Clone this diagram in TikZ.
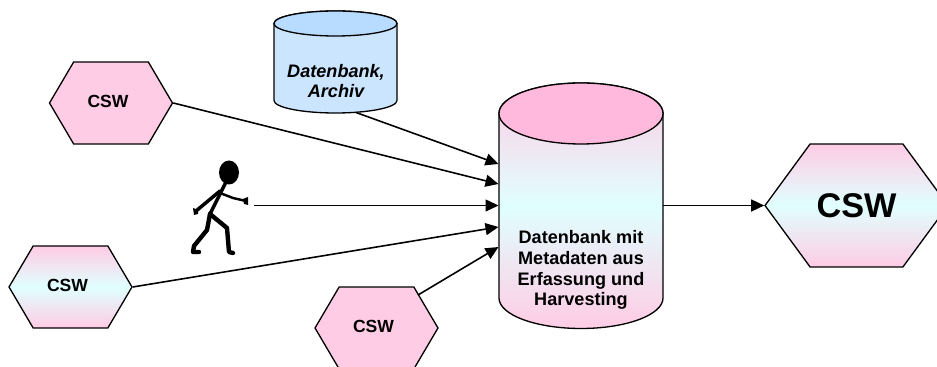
\documentclass[tikz,border=0pt]{standalone}
\usepackage{fontspec}
\setmainfont{Liberation Sans}
\usetikzlibrary{arrows.meta,shapes.symbols}
\definecolor{dbpink}{HTML}{FFCCE5}
\definecolor{dbpinktop}{HTML}{FFB9DC}
\definecolor{dbcyan}{HTML}{E0FFFF}
\definecolor{dbblue}{HTML}{CCE5FF}
\definecolor{dbbluetop}{HTML}{B8DCFF}
\newcommand{\cswtext}{\raisebox{1.7pt}{CSW}\kern3.4pt}
\def\drum[#1][#2](#3,#4,#5)(#6:#7){
	\draw[drumline, #1] (#3-#6, #4) arc (180:0:#6 and -#7) -- (#3+#6, #5) arc (0:180:#6 and #7) -- cycle;
	\draw[drumline, fill=#2] (#3, #4) ellipse (#6 and #7);
}
\tikzset{
	cswhex/.style={signal, signal to=east and west, signal pointer angle=119, draw=black, line width=0.75pt, inner sep=0pt, minimum width=2.46cm, minimum height=1.64cm, font=\bfseries\fontsize{10}{12}\selectfont},
	cswplain/.style={cswhex, fill=dbpink},
	cswshade/.style={top color=dbpink, bottom color=dbpink, middle color=dbcyan},
	drumline/.style={draw=black, line width=0.75pt},
	cyllabel/.style={align=center, font=\bfseries\fontsize{10.3}{11.9}\selectfont},
	feed/.style={draw=black, line width=0.9pt, -{Triangle[length=7.4pt,width=6.8pt]}},
	limb/.style={line width=2pt, line cap=round, line join=round},
}
\begin{document}
\begin{tikzpicture}[x=0.02cm,y=-0.02cm]
	%%%%% FRAME %%%%%
	\clip (0, 0) rectangle (937, 367);

	%%%%% STORES %%%%%
	\drum[fill=dbblue][dbbluetop](335.5, 23.5, 100.5)(61.5:12.5)
	\node[cyllabel, font=\bfseries\itshape\fontsize{10.3}{11.3}\selectfont] (archiv) at (336, 81) {Datenbank,\\Archiv};

	\drum[cswshade][dbpinktop](581, 113.5, 298)(82:30.5)
	\node[cyllabel] (metadb) at (581, 270) {Datenbank mit\\Metadaten aus\\Erfassung und\\Harvesting};

	%%%%% SERVICES %%%%%
	\node[cswplain] (cswa) at (111, 103) {\cswtext};
	\node[cswhex, cswshade] (cswb) at (70.5, 287) {\cswtext};
	\node[cswplain] (cswc) at (376.5, 328) {\cswtext};
	\node[cswhex, cswshade, signal pointer angle=107.5, minimum width=3.66cm, minimum height=2.46cm, font=\bfseries\fontsize{19.5}{24}\selectfont] (cswout) at (856.5, 205.5) {CSW};

	%%%%% PERSON %%%%%
	\fill (229, 172.5) ellipse (10 and 12);
	\draw[limb] (226, 182) -- (210, 214);
	\draw[limb] (220, 191) -- (196, 211);
	\draw[limb, line width=1.4pt] (220, 193) -- (233, 198) -- (246, 201);
	\fill (243, 199) -- (248, 197) -- (248, 205) -- (244, 204) -- cycle;
	\fill (193, 208) -- (198, 210) -- (198, 214) -- (194, 215) -- cycle;
	\draw[limb, line width=2.5pt] (210, 214) -- (207, 230) -- (194, 246) -- (193, 252) -- (199, 252);
	\draw[limb, line width=2.5pt] (210, 214) -- (227, 228) -- (229, 252) -- (233, 253);

	%%%%% CONNECTORS %%%%%
	\coordinate (persona) at (254, 205.5);
	\coordinate (ina) at (498.5, 164);
	\coordinate (inb) at (498.5, 184);
	\coordinate (inc) at (498.5, 205.5);
	\coordinate (ind) at (498.5, 227);
	\coordinate (ine) at (498.5, 247);
	\coordinate (archivout) at (356, 112.5);
	\coordinate (cswcout) at (418, 295);
	\coordinate (metaout) at (663, 205.5);

	\draw[feed] (archivout) -- (ina);
	\draw[feed] (cswa.east) -- (inb);
	\draw[feed] (persona) -- (inc);
	\draw[feed] (cswb.east) -- (ind);
	\draw[feed] (cswcout) -- (ine);
	\draw[feed] (metaout) -- (cswout.west);
\end{tikzpicture}
\end{document}
